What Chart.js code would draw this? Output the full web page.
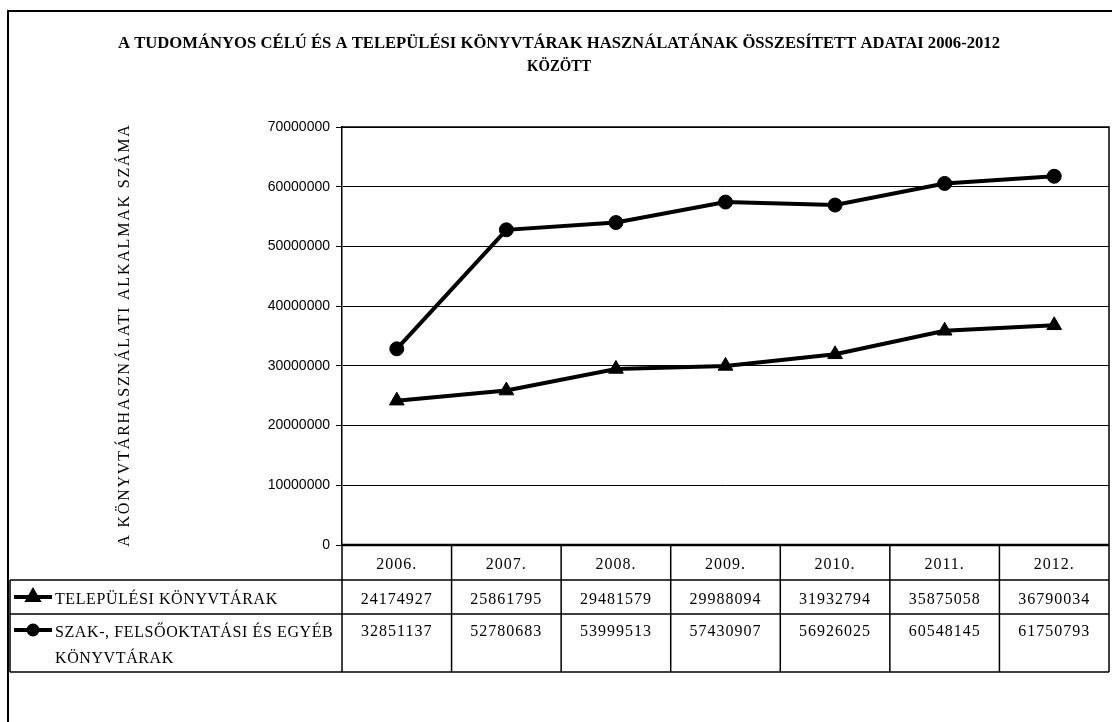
<!DOCTYPE html>
<html>
<head>
<meta charset="utf-8">
<script src="https://cdn.jsdelivr.net/npm/chart.js@4/dist/chart.umd.min.js"></script>
<style>
  html, body { margin: 0; padding: 0; background: #fff; }
  #wrap { width: 1112px; height: 722px; position: relative; }
</style>
</head>
<body>
<div id="wrap"><canvas id="chart" width="1112" height="722"></canvas></div>
<script>
var years = ["2006.", "2007.", "2008.", "2009.", "2010.", "2011.", "2012."];
var telepulesi = [24174927, 25861795, 29481579, 29988094, 31932794, 35875058, 36790034];
var szak = [32851137, 52780683, 53999513, 57430907, 56926025, 60548145, 61750793];
var telepulesiLabel = ["TELEPÜLÉSI KÖNYVTÁRAK"];
var szakLabel = ["SZAK-, FELSŐOKTATÁSI ÉS EGYÉB", "KÖNYVTÁRAK"];
var chartTitle = ["A TUDOMÁNYOS CÉLÚ ÉS A TELEPÜLÉSI KÖNYVTÁRAK HASZNÁLATÁNAK ÖSSZESÍTETT ADATAI 2006-2012", "KÖZÖTT"];
var yTitle = "A KÖNYVTÁRHASZNÁLATI ALKALMAK SZÁMA";

var serif = "'Liberation Serif', 'Times New Roman', serif";

// frame, title, y title, plot box and the data table under the axis
var tablePlugin = {
  id: 'tablePlugin',
  afterDraw: function(chart) {
    var ctx = chart.ctx;
    var area = chart.chartArea;
    var x = chart.scales.x;
    var half = (x.getPixelForValue(1) - x.getPixelForValue(0)) / 2;
    var top = area.bottom, r1 = area.bottom + 35, r2 = r1 + 34, r3 = r2 + 58;
    var tableLeft = 10;

    ctx.save();
    ctx.strokeStyle = '#000';

    // outer frame (right and bottom run off the picture)
    ctx.lineWidth = 2;
    ctx.beginPath();
    ctx.moveTo(8, 722); ctx.lineTo(8, 11); ctx.lineTo(1112, 11);
    ctx.stroke();

    // plot box top / right
    ctx.lineWidth = 1.5;
    ctx.beginPath();
    ctx.moveTo(area.left, area.top); ctx.lineTo(area.right, area.top); ctx.lineTo(area.right, area.bottom);
    ctx.stroke();

    // title
    ctx.fillStyle = '#000';
    ctx.textAlign = 'center';
    ctx.textBaseline = 'middle';
    ctx.font = 'bold 17px ' + serif;
    ctx.fillText(chartTitle[0], 559, 44, 882);
    ctx.fillText(chartTitle[1], 559, 67, 64);

    // y axis title
    ctx.save();
    ctx.translate(125, (area.top + area.bottom) / 2 - 1);
    ctx.rotate(-Math.PI / 2);
    ctx.font = '16px ' + serif;
    ctx.letterSpacing = '1.8px';
    ctx.fillText(yTitle, 0, 0);
    ctx.restore();

    // table grid
    ctx.lineWidth = 1.5;
    ctx.beginPath();
    ctx.moveTo(tableLeft, r1); ctx.lineTo(area.right, r1);
    ctx.moveTo(tableLeft, r2); ctx.lineTo(area.right, r2);
    ctx.moveTo(tableLeft, r3); ctx.lineTo(area.right, r3);
    ctx.moveTo(tableLeft, r1); ctx.lineTo(tableLeft, r3);
    for (var i = 0; i < years.length; i++) {
      var l = x.getPixelForValue(i) - half;
      ctx.moveTo(l, top); ctx.lineTo(l, r3);
    }
    ctx.moveTo(area.right, top); ctx.lineTo(area.right, r3);
    ctx.stroke();
    // thicker axis line
    ctx.lineWidth = 2.5;
    ctx.beginPath();
    ctx.moveTo(area.left, top); ctx.lineTo(area.right, top);
    ctx.stroke();

    // cell texts
    ctx.font = '16px ' + serif;
    ctx.letterSpacing = '1px';
    ctx.textAlign = 'center';
    for (var j = 0; j < years.length; j++) {
      var cx = x.getPixelForValue(j);
      ctx.fillText(years[j], cx, (top + r1) / 2 + 2);
      ctx.fillText(String(telepulesi[j]), cx, (r1 + r2) / 2 + 3);
      ctx.fillText(String(szak[j]), cx, r2 + 18);
    }

    // row labels with legend keys
    var ds = chart.data.datasets;
    var rows = [[ds[0], (r1 + r2) / 2, telepulesiLabel], [ds[1], r2 + 16, szakLabel]];
    rows.forEach(function(row) {
      var d = row[0], y = row[1];
      ctx.lineWidth = 4;
      ctx.beginPath();
      ctx.moveTo(14, y); ctx.lineTo(52, y);
      ctx.stroke();
      ctx.fillStyle = '#000';
      Chart.helpers.drawPoint(ctx, {
        pointStyle: d.pointStyle, radius: d.pointStyle === 'triangle' ? 6 : 4.5,
        rotation: 0, borderWidth: 1
      }, 33, y);
      ctx.textAlign = 'left';
      ctx.font = '16px ' + serif;
      ctx.letterSpacing = '0.6px';
      row[2].forEach(function(t, k) {
        ctx.fillText(t, 55, y + 3 + k * 26);
      });
    });
    ctx.restore();
  }
};

new Chart(document.getElementById('chart'), {
  type: 'line',
  data: {
    labels: years,
    datasets: [{
      label: telepulesiLabel.join(' '),
      data: telepulesi,
      borderColor: '#000',
      backgroundColor: '#000',
      borderWidth: 4,
      pointStyle: 'triangle',
      pointRadius: 8.5,
      pointBorderWidth: 1,
      tension: 0
    }, {
      label: szakLabel.join(' '),
      data: szak,
      borderColor: '#000',
      backgroundColor: '#000',
      borderWidth: 4,
      pointStyle: 'circle',
      pointRadius: 7,
      pointBorderWidth: 1,
      tension: 0
    }]
  },
  options: {
    responsive: false,
    animation: false,
    devicePixelRatio: 1,
    layout: { autoPadding: false, padding: { left: 242, top: 127, right: 3, bottom: 177 } },
    plugins: {
      legend: { display: false },
      title: { display: false },
      tooltip: { enabled: false }
    },
    scales: {
      x: {
        display: false,
        offset: true
      },
      y: {
        min: 0,
        max: 70000000,
        afterFit: function(s) { s.width = 100; },
        ticks: {
          stepSize: 10000000,
          color: '#000',
          padding: 6,
          font: { family: "'Liberation Sans', Arial, sans-serif", size: 14 },
          callback: function(v) { return String(v); }
        },
        grid: { color: '#000', lineWidth: 1, tickLength: 6, drawTicks: true },
        border: { color: '#000', width: 1.5 }
      }
    }
  },
  plugins: [tablePlugin]
});
</script>
</body>
</html>
